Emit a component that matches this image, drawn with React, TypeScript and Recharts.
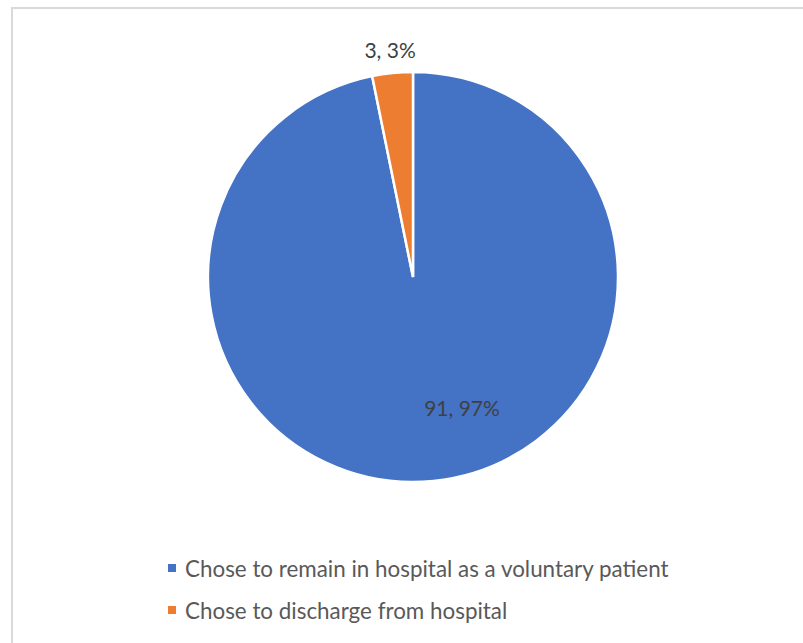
import { PieChart, Pie, Cell } from "recharts";

const categories = [
  "Chose to remain in hospital as a voluntary patient",
  "Chose to discharge from hospital",
];
const counts = [91, 3];
const colors = ["#4472C4", "#ED7D31"];

const data = categories.map((name, i) => ({ name, value: counts[i] }));
const total = counts.reduce((a, b) => a + b, 0);

const FONT = "Lato, 'Open Sans', sans-serif";
const RAD = Math.PI / 180;

// Excel-style data labels: "value, percent"; small slices go outside the rim
function renderLabel(props: any) {
  const { cx, cy, midAngle, outerRadius, value } = props;
  const pct = Math.round((value / total) * 100);
  let x: number;
  let y: number;
  if (value / total > 0.5) {
    x = cx + 49;
    y = cy + 130;
  } else {
    const r = outerRadius + 24;
    x = cx + r * Math.cos(-midAngle * RAD);
    y = cy + r * Math.sin(-midAngle * RAD);
  }
  return (
    <text
      x={x}
      y={y}
      fill="#404040"
      fontSize={21}
      fontFamily={FONT}
      textAnchor="middle"
      dominantBaseline="central"
    >
      {`${value}, ${pct}%`}
    </text>
  );
}

export default function App() {
  return (
    <div
      style={{
        position: "fixed",
        left: 0,
        top: 0,
        width: 803,
        height: 643,
        overflow: "hidden",
        background: "#fff",
      }}
    >
      <div
        style={{
          position: "absolute",
          left: 11,
          top: 7,
          width: 820,
          height: 660,
          border: "2px solid #d9d9d9",
          boxSizing: "border-box",
        }}
      />
      <div style={{ position: "absolute", left: 0, top: 0 }}>
        <PieChart width={803} height={520}>
          <Pie
            data={data}
            dataKey="value"
            nameKey="name"
            cx={408}
            cy={272}
            outerRadius={205}
            startAngle={90}
            endAngle={-270}
            stroke="#ffffff"
            strokeWidth={2.5}
            label={renderLabel}
            labelLine={false}
            isAnimationActive={false}
          >
            {data.map((d, i) => (
              <Cell key={d.name} fill={colors[i]} />
            ))}
          </Pie>
        </PieChart>
      </div>
      <div
        style={{
          position: "absolute",
          left: 168,
          top: 552,
          fontFamily: FONT,
          fontSize: 22.4,
          color: "#595959",
        }}
      >
        {data.map((d, i) => (
          <div
            key={d.name}
            style={{ display: "flex", alignItems: "center", height: 32, marginBottom: 10 }}
          >
            <span
              style={{
                display: "inline-block",
                width: 8,
                height: 8,
                background: colors[i],
                marginRight: 9,
              }}
            />
            <span>{d.name}</span>
          </div>
        ))}
      </div>
    </div>
  );
}
